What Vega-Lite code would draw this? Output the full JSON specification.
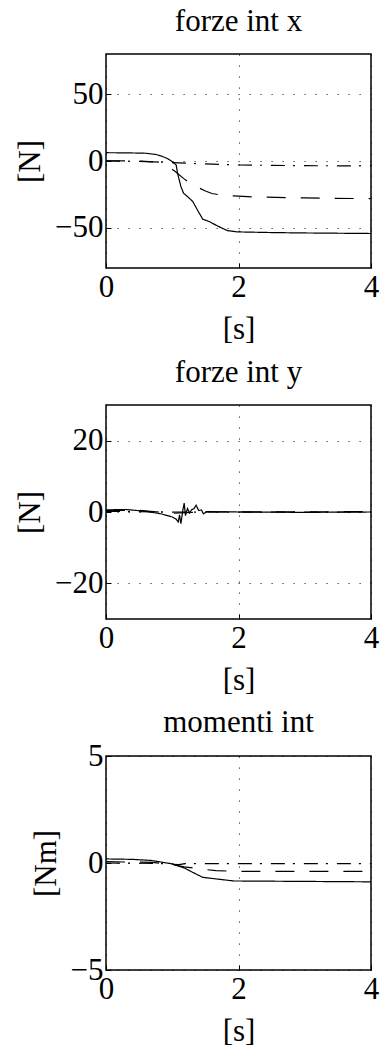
{
  "$schema": "https://vega.github.io/schema/vega-lite/v6.json",
  "background": "white",
  "padding": {"left": 13, "top": 5, "right": 5, "bottom": 5},
  "spacing": 137,
  "bounds": "flush",
  "config": {
    "font": "Liberation Serif",
    "view": {"stroke": "black", "strokeWidth": 1.5},
    "title": {"fontSize": 31, "fontWeight": "normal", "color": "black", "font": "Liberation Serif", "offset": 16},
    "axis": {
      "labelFont": "Liberation Serif", "titleFont": "Liberation Serif",
      "labelFontSize": 31, "titleFontSize": 31, "titleFontWeight": "normal",
      "labelColor": "black", "titleColor": "black",
      "grid": true, "gridColor": "black", "gridDash": [1.2, 9.8], "gridOpacity": 0.8, "gridWidth": 1,
      "domain": false, "ticks": true, "tickSize": -5, "tickColor": "black", "tickWidth": 1,
      "labelFlush": false, "labelOverlap": false
    },
    "axisX": {"labelPadding": 9, "titlePadding": 12},
    "axisY": {"labelPadding": 8, "titlePadding": 8}
  },
  "datasets": {
    "p1": [
      {"t": 0, "v": 6.2, "s": "a"}, {"t": 0.3, "v": 6.1, "s": "a"}, {"t": 0.6, "v": 5.8, "s": "a"},
      {"t": 0.75, "v": 4.9, "s": "a"}, {"t": 0.83, "v": 3.8, "s": "a"}, {"t": 0.93, "v": 1.8, "s": "a"},
      {"t": 0.98, "v": 0.2, "s": "a"}, {"t": 1.06, "v": -3, "s": "a"}, {"t": 1.08, "v": -9.2, "s": "a"},
      {"t": 1.13, "v": -19, "s": "a"}, {"t": 1.17, "v": -24, "s": "a"}, {"t": 1.23, "v": -26.6, "s": "a"},
      {"t": 1.31, "v": -30.3, "s": "a"}, {"t": 1.38, "v": -36.6, "s": "a"}, {"t": 1.46, "v": -43.5, "s": "a"},
      {"t": 1.56, "v": -45.3, "s": "a"}, {"t": 1.68, "v": -48.5, "s": "a"}, {"t": 1.83, "v": -52, "s": "a"},
      {"t": 1.98, "v": -53, "s": "a"}, {"t": 2.5, "v": -53.5, "s": "a"}, {"t": 3, "v": -53.8, "s": "a"},
      {"t": 3.5, "v": -54, "s": "a"}, {"t": 4, "v": -54.2, "s": "a"},
      {"t": 0, "v": 0.2, "s": "b"}, {"t": 0.5, "v": 0, "s": "b"}, {"t": 0.8, "v": -0.8, "s": "b"},
      {"t": 0.94, "v": -4, "s": "b"}, {"t": 1.05, "v": -8, "s": "b"}, {"t": 1.17, "v": -13, "s": "b"},
      {"t": 1.29, "v": -17.4, "s": "b"}, {"t": 1.4, "v": -20, "s": "b"}, {"t": 1.5, "v": -22.4, "s": "b"},
      {"t": 1.6, "v": -24.3, "s": "b"}, {"t": 1.75, "v": -25.6, "s": "b"}, {"t": 2.0, "v": -26.3, "s": "b"},
      {"t": 2.24, "v": -26.9, "s": "b"}, {"t": 3, "v": -27.6, "s": "b"}, {"t": 4, "v": -28.2, "s": "b"},
      {"t": 0, "v": 0.1, "s": "c"}, {"t": 0.5, "v": -0.3, "s": "c"}, {"t": 1.0, "v": -1.2, "s": "c"},
      {"t": 1.5, "v": -2.2, "s": "c"}, {"t": 2.0, "v": -3, "s": "c"}, {"t": 3, "v": -3.5, "s": "c"},
      {"t": 4, "v": -3.7, "s": "c"}
    ],
    "p2": [
      {"t": 0, "v": 0.6, "s": "a"}, {"t": 0.3, "v": 0.7, "s": "a"}, {"t": 0.6, "v": 0.2, "s": "a"},
      {"t": 0.83, "v": -0.5, "s": "a"}, {"t": 1.0, "v": -1.4, "s": "a"}, {"t": 1.06, "v": -2.0, "s": "a"},
      {"t": 1.09, "v": -2.8, "s": "a"}, {"t": 1.11, "v": -0.8, "s": "a"}, {"t": 1.13, "v": -3.3, "s": "a"},
      {"t": 1.16, "v": 0.5, "s": "a"}, {"t": 1.18, "v": 2.5, "s": "a"}, {"t": 1.2, "v": -1.0, "s": "a"},
      {"t": 1.23, "v": 1.0, "s": "a"}, {"t": 1.26, "v": -0.3, "s": "a"}, {"t": 1.29, "v": 0.6, "s": "a"},
      {"t": 1.33, "v": 1.0, "s": "a"}, {"t": 1.36, "v": 1.9, "s": "a"}, {"t": 1.4, "v": 0.4, "s": "a"},
      {"t": 1.44, "v": 0.6, "s": "a"}, {"t": 1.47, "v": -0.5, "s": "a"}, {"t": 1.52, "v": 0.1, "s": "a"},
      {"t": 2, "v": 0, "s": "a"}, {"t": 3, "v": -0.1, "s": "a"}, {"t": 4, "v": 0, "s": "a"},
      {"t": 0, "v": 0.4, "s": "b"}, {"t": 0.5, "v": 0.5, "s": "b"}, {"t": 0.8, "v": 0, "s": "b"},
      {"t": 1.0, "v": -0.3, "s": "b"}, {"t": 1.2, "v": -0.2, "s": "b"}, {"t": 1.5, "v": 0, "s": "b"},
      {"t": 4, "v": 0.1, "s": "b"},
      {"t": 0, "v": 0.2, "s": "c"}, {"t": 1, "v": 0, "s": "c"}, {"t": 4, "v": 0, "s": "c"}
    ],
    "p3": [
      {"t": 0, "v": 0.19, "s": "a"}, {"t": 0.4, "v": 0.17, "s": "a"}, {"t": 0.68, "v": 0.12, "s": "a"},
      {"t": 0.98, "v": -0.03, "s": "a"}, {"t": 1.18, "v": -0.23, "s": "a"}, {"t": 1.33, "v": -0.47, "s": "a"},
      {"t": 1.46, "v": -0.67, "s": "a"}, {"t": 1.68, "v": -0.75, "s": "a"}, {"t": 1.93, "v": -0.84, "s": "a"},
      {"t": 3, "v": -0.86, "s": "a"}, {"t": 4, "v": -0.88, "s": "a"},
      {"t": 0, "v": 0.06, "s": "b"}, {"t": 0.7, "v": 0.03, "s": "b"}, {"t": 0.95, "v": -0.05, "s": "b"},
      {"t": 1.18, "v": -0.18, "s": "b"}, {"t": 1.43, "v": -0.28, "s": "b"}, {"t": 1.66, "v": -0.36, "s": "b"},
      {"t": 2, "v": -0.39, "s": "b"}, {"t": 4, "v": -0.39, "s": "b"},
      {"t": 0, "v": 0, "s": "c"}, {"t": 0.8, "v": -0.02, "s": "c"}, {"t": 1.1, "v": -0.08, "s": "c"},
      {"t": 1.2, "v": -0.03, "s": "c"}, {"t": 4, "v": -0.03, "s": "c"}
    ]
  },
  "vconcat": [
    {
      "title": "forze int x",
      "width": 265, "height": 214,
      "data": {"name": "p1"},
      "mark": {"type": "line", "color": "black", "strokeWidth": 1.2},
      "encoding": {
        "x": {"field": "t", "type": "quantitative", "scale": {"domain": [0, 4], "nice": false, "zero": false}, "axis": {"values": [0, 2, 4], "title": "[s]"}},
        "y": {"field": "v", "type": "quantitative", "scale": {"domain": [-80, 80], "nice": false}, "axis": {"values": [-50, 0, 50], "title": "[N]"}},
        "strokeDash": {"field": "s", "type": "nominal", "scale": {"domain": ["a", "b", "c"], "range": [[1, 0], [19, 15], [14, 8, 2, 9]]}, "legend": null}
      }
    },
    {
      "title": "forze int y",
      "width": 265, "height": 214,
      "data": {"name": "p2"},
      "mark": {"type": "line", "color": "black", "strokeWidth": 1.2},
      "encoding": {
        "x": {"field": "t", "type": "quantitative", "scale": {"domain": [0, 4], "nice": false, "zero": false}, "axis": {"values": [0, 2, 4], "title": "[s]"}},
        "y": {"field": "v", "type": "quantitative", "scale": {"domain": [-30, 30], "nice": false}, "axis": {"values": [-20, 0, 20], "title": "[N]"}},
        "strokeDash": {"field": "s", "type": "nominal", "scale": {"domain": ["a", "b", "c"], "range": [[1, 0], [19, 15], [14, 8, 2, 9]]}, "legend": null}
      }
    },
    {
      "title": {"text": "momenti int", "offset": 1},
      "width": 265, "height": 214,
      "data": {"name": "p3"},
      "mark": {"type": "line", "color": "black", "strokeWidth": 1.2},
      "encoding": {
        "x": {"field": "t", "type": "quantitative", "scale": {"domain": [0, 4], "nice": false, "zero": false}, "axis": {"values": [0, 2, 4], "title": "[s]"}},
        "y": {"field": "v", "type": "quantitative", "scale": {"domain": [-5, 5], "nice": false}, "axis": {"values": [-5, 0, 5], "title": "[Nm]"}},
        "strokeDash": {"field": "s", "type": "nominal", "scale": {"domain": ["a", "b", "c"], "range": [[1, 0], [19, 15], [14, 8, 2, 9]]}, "legend": null}
      }
    }
  ]
}
